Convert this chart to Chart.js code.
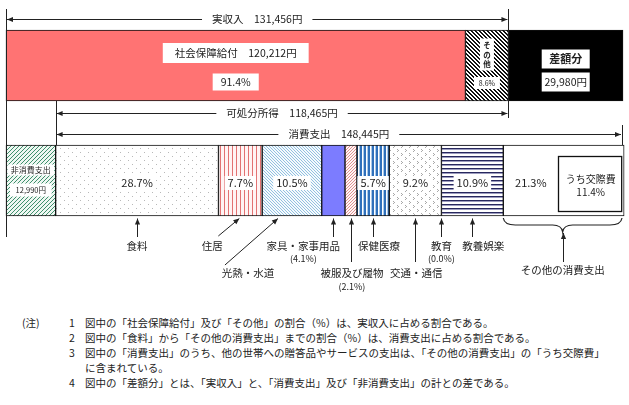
<!DOCTYPE html>
<html lang="ja">
<head>
<meta charset="utf-8">
<script src="https://cdn.jsdelivr.net/npm/chart.js@4.4.0/dist/chart.umd.min.js"></script>
<style>
body { margin: 0; background: #fff; font-family: 'Noto Sans CJK JP', sans-serif; color: #222; }
#wrap { position: relative; width: 629px; height: 300px; }
#notes { position: absolute; top: 315px; left: 0; width: 629px; font-size: 10.5px; line-height: 15px; }
#notes div { position: relative; padding-left: 85px; white-space: nowrap; }
#notes .chu { position: absolute; left: 22px; }
#notes .num { position: absolute; left: 69px; }
</style>
</head>
<body>
<div id="wrap"><canvas id="budgetChart"></canvas></div>
<div id="notes">
  <div><span class="chu">(注)</span><span class="num">1</span>図中の「社会保障給付」及び「その他」の割合（%）は、実収入に占める割合である。</div>
  <div><span class="num">2</span>図中の「食料」から「その他の消費支出」までの割合（%）は、消費支出に占める割合である。</div>
  <div><span class="num">3</span>図中の「消費支出」のうち、他の世帯への贈答品やサービスの支出は、「その他の消費支出」の「うち交際費」</div>
  <div>に含まれている。</div>
  <div><span class="num">4</span>図中の「差額分」とは、「実収入」と、「消費支出」及び「非消費支出」の計との差である。</div>
</div>
<script>
// 金額（円）
const jitsuShunyu = 131456;
const kashobunShotoku = 118465;
const shohiShishutsu = 148445;
const hiShohiShishutsu = 12990;
const sagakubun = 29980;

// 実収入の内訳
const incomeLabels = ['社会保障給付', 'その他'];
const incomeYen = [120212, 11244];
const incomePct = [91.4, 8.6];

// 消費支出の内訳（消費支出に占める割合 %）
const consumptionLabels = ['食料', '住居', '光熱・水道', '家具・家事用品', '被服及び履物',
    '保健医療', '交通・通信', '教育', '教養娯楽', 'その他の消費支出'];
const consumptionPct = [28.7, 7.7, 10.5, 4.1, 2.1, 5.7, 9.2, 0.0, 10.9, 21.3];
const kosaihiPct = 11.4;

const rowLabels = ['実収入', '支出'];
const FONT = "'Noto Sans CJK JP', sans-serif";

function yen(n) {
    return n.toLocaleString('en-US') + '円';
}

// pixel patterns
function pattern(w, h, bg, paint) {
    const c = document.createElement('canvas');
    c.width = w;
    c.height = h;
    const g = c.getContext('2d');
    g.fillStyle = bg;
    g.fillRect(0, 0, w, h);
    for (let y = 0; y < h; y++) {
        for (let x = 0; x < w; x++) {
            const col = paint(x, y);
            if (col) {
                g.fillStyle = col;
                g.fillRect(x, y, 1, 1);
            }
        }
    }
    return g.createPattern(c, 'repeat');
}

const fills = {
    shakai: '#ff7373',
    sonota: pattern(4, 4, '#fff', (x, y) => ((x - y + 8) % 4 < 2 ? '#111' : null)),
    sagaku: '#000',
    hiShohi: pattern(4, 4, '#eef7f2', (x, y) => ((x + y) % 4 === 0 ? '#3f8f6c' : null)),
    food: pattern(8, 8, '#fff', (x, y) => ((x === 0 && y === 0) || (x === 4 && y === 4) ? '#b8b8b8' : null)),
    housing: pattern(4, 4, '#fff4f4', (x) => (x === 0 ? '#e27272' : null)),
    utility: pattern(3, 3, '#f5fafd', (x, y) => ((x - y + 6) % 3 === 0 ? '#92c0e0' : null)),
    furniture: '#7c7cff',
    clothing: pattern(3, 3, '#fff6f6', (x, y) => ((x + y) % 3 === 0 ? '#e09090' : null)),
    medical: pattern(4, 4, '#fff', (x) => (x < 2 ? '#2f70bb' : (x === 3 ? '#a9c9ea' : null))),
    transport: pattern(8, 8, '#fff', (x, y) => (
        ((x === 1 && y === 1) || (x === 2 && y === 2) || (x === 1 && y === 3) ||
         (x === 5 && y === 5) || (x === 6 && y === 6) || (x === 5 && y === 7)) ? '#a8a8a8' : null)),
    education: '#fff',
    culture: pattern(4, 4, '#fff', (x, y) => (y === 0 ? '#28285e' : (y === 1 ? '#9c9cbf' : null))),
    other: '#fff'
};
const consumptionFills = [fills.food, fills.housing, fills.utility, fills.furniture, fills.clothing,
    fills.medical, fills.transport, fills.education, fills.culture, fills.other];

const datasets = [];
incomeLabels.forEach((name, i) => {
    datasets.push({ label: name, data: [incomeYen[i], 0], backgroundColor: i === 0 ? fills.shakai : fills.sonota });
});
datasets.push({ label: '差額分', data: [sagakubun, 0], backgroundColor: fills.sagaku });
datasets.push({ label: '非消費支出', data: [0, hiShohiShishutsu], backgroundColor: fills.hiShohi });
consumptionLabels.forEach((name, i) => {
    datasets.push({ label: name, data: [0, shohiShishutsu * consumptionPct[i] / 100], backgroundColor: consumptionFills[i] });
});
datasets.forEach(ds => {
    ds.borderColor = '#111';
    ds.borderWidth = 1;
    ds.borderSkipped = false;
    ds.barThickness = 71;
    ds.clip = false;
});
const FIRST_CONS = 4;

function seg(chart, ds, row) {
    const el = chart.getDatasetMeta(ds).data[row];
    const l = Math.min(el.base, el.x), r = Math.max(el.base, el.x);
    return { l, r, cx: (l + r) / 2, cy: el.y, top: el.y - el.height / 2, bottom: el.y + el.height / 2 };
}

function px(v) {
    return Math.round(v) + 0.5;
}

function line(ctx, x1, y1, x2, y2) {
    ctx.beginPath();
    ctx.moveTo(x1, y1);
    ctx.lineTo(x2, y2);
    ctx.stroke();
}

function head(ctx, x, y, angle) {
    ctx.save();
    ctx.translate(x, y);
    ctx.rotate(angle);
    ctx.beginPath();
    ctx.moveTo(0, 0);
    ctx.lineTo(-6, -2.6);
    ctx.lineTo(-6, 2.6);
    ctx.closePath();
    ctx.fill();
    ctx.restore();
}

function arrow(ctx, x1, y1, x2, y2) {
    line(ctx, x1, y1, x2, y2);
    head(ctx, x2, y2, Math.atan2(y2 - y1, x2 - x1));
}

function text(ctx, s, x, y, size, bold) {
    ctx.font = (bold ? 'bold ' : '') + size + 'px ' + FONT;
    ctx.textAlign = 'center';
    ctx.textBaseline = 'middle';
    ctx.fillStyle = '#222';
    ctx.fillText(s, x, y);
}

function boxText(ctx, s, x, y, size, padX, h, bold, w) {
    ctx.font = (bold ? 'bold ' : '') + size + 'px ' + FONT;
    const bw = w || ctx.measureText(s).width + padX * 2;
    ctx.fillStyle = '#fff';
    ctx.fillRect(x - bw / 2, y - h / 2, bw, h);
    text(ctx, s, x, y, size, bold);
}

function spanArrow(ctx, x1, x2, y, label, size) {
    const yy = px(y);
    line(ctx, x1, yy, x2, yy);
    head(ctx, x1, yy, Math.PI);
    head(ctx, x2, yy, 0);
    boxText(ctx, label, (x1 + x2) / 2, y, size, 10, 12);
}

const annotations = {
    id: 'annotations',
    afterDatasetsDraw(chart) {
        const ctx = chart.ctx;
        const sx = chart.scales.x;
        ctx.save();
        ctx.strokeStyle = '#222';
        ctx.fillStyle = '#222';
        ctx.lineWidth = 1;

        const xL = sx.getPixelForValue(0);
        const xJ = sx.getPixelForValue(jitsuShunyu);
        const xH = sx.getPixelForValue(hiShohiShishutsu);
        const xE = sx.getPixelForValue(hiShohiShishutsu + shohiShishutsu);
        const top = seg(chart, 0, 0);
        const bot = seg(chart, 3, 1);

        // guide lines
        line(ctx, px(xL), top.top - 21, px(xL), bot.bottom + 21);
        line(ctx, px(xJ), top.top - 21, px(xJ), top.bottom + 17);
        line(ctx, px(xH), top.bottom, px(xH), bot.top);
        line(ctx, px(xE) - 1, bot.top - 20, px(xE) - 1, bot.top);

        spanArrow(ctx, xL + 1, xJ - 1, top.top - 11, '実収入　' + yen(jitsuShunyu), 10.5);
        spanArrow(ctx, xH + 1, xJ - 1, top.bottom + 12, '可処分所得　' + yen(kashobunShotoku), 10.5);
        spanArrow(ctx, xH + 1, xE - 2, bot.top - 11, '消費支出　' + yen(shohiShishutsu), 10.5);

        // 実収入の内訳
        const s0 = seg(chart, 0, 0);
        boxText(ctx, incomeLabels[0] + '　' + yen(incomeYen[0]), s0.cx, s0.cy - 12.5, 10.5, 12, 20);
        boxText(ctx, incomePct[0].toFixed(1) + '%', s0.cx, s0.cy + 16.5, 10.5, 8, 17);
        const s1 = seg(chart, 1, 0);
        ctx.fillStyle = '#fff';
        ctx.fillRect(s1.cx - 7, s1.cy - 27, 14, 32);
        ['そ', 'の', '他'].forEach((c, k) => text(ctx, c, s1.cx, s1.cy - 20 + k * 9.5, 7.5, true));
        boxText(ctx, incomePct[1].toFixed(1) + '%', s1.cx, s1.cy + 17.5, 7, 2, 12, false, 26);
        const s2 = seg(chart, 2, 0);
        boxText(ctx, '差額分', s2.cx, s2.cy - 6.5, 11, 0, 19, true, 48);
        boxText(ctx, yen(sagakubun), s2.cx, s2.cy + 16.5, 10.5, 0, 19, false, 48);

        // 非消費支出
        const s3 = seg(chart, 3, 1);
        boxText(ctx, '非消費支出', s3.cx, s3.cy - 10.5, 8, 0, 11, false, s3.r - s3.l - 3);
        boxText(ctx, yen(hiShohiShishutsu), s3.cx, s3.cy + 9.5, 7.5, 0, 13, false, s3.r - s3.l - 8);

        // 消費支出の内訳
        const cs = consumptionLabels.map((_, i) => seg(chart, FIRST_CONS + i, 1));
        const other = cs[9];
        const kosaiW = sx.getPixelForValue(shohiShishutsu * kosaihiPct / 100) - sx.getPixelForValue(0);
        const boxL = xE - kosaiW;
        ctx.fillStyle = '#fff';
        ctx.fillRect(boxL, other.top + 11, xE - boxL - 1, other.bottom - other.top - 15);
        ctx.strokeStyle = '#111';
        ctx.lineWidth = 1.3;
        ctx.strokeRect(px(boxL), other.top + 11.5, xE - boxL - 1.5, other.bottom - other.top - 16);
        ctx.lineWidth = 1;
        ctx.strokeStyle = '#222';
        text(ctx, 'うち交際費', (boxL + xE) / 2, other.cy - 1.5, 10);
        text(ctx, kosaihiPct.toFixed(1) + '%', (boxL + xE) / 2, other.cy + 11.5, 10);

        [0, 1, 2, 5, 6, 8].forEach(i => {
            boxText(ctx, consumptionPct[i].toFixed(1) + '%', cs[i].cx, cs[i].cy + 2.5, 11, 3, 14);
        });
        text(ctx, consumptionPct[9].toFixed(1) + '%', (other.l + boxL) / 2, other.cy + 2.5, 11);

        // 下の見出しと矢印
        const yTip = bot.bottom + 2.5;
        const yTail = bot.bottom + 21;
        const yLong = bot.bottom + 46;
        const r1 = bot.bottom + 30;
        const r1p = bot.bottom + 43;
        const r2 = bot.bottom + 57;
        const r2p = bot.bottom + 71;
        ctx.fillStyle = '#222';

        arrow(ctx, px(cs[0].cx), yTail, px(cs[0].cx), yTip);
        text(ctx, consumptionLabels[0], cs[0].cx, r1, 10.5);

        arrow(ctx, cs[1].cx - 22, yTail - 1, cs[1].cx - 1, yTip);
        text(ctx, consumptionLabels[1], cs[1].cx - 28, r1, 10.5);

        arrow(ctx, cs[2].cx - 67, yLong + 3, cs[2].cx - 14, yTip);
        text(ctx, consumptionLabels[2], cs[2].cx - 44, r2, 10.5);

        arrow(ctx, px(cs[3].cx), yTail, px(cs[3].cx), yTip);
        text(ctx, consumptionLabels[3], cs[3].cx - 30, r1, 10.5);
        text(ctx, '(' + consumptionPct[3].toFixed(1) + '%)', cs[3].cx - 30, r1p, 9);

        arrow(ctx, px(cs[4].cx), yLong, px(cs[4].cx), yTip);
        text(ctx, consumptionLabels[4], cs[4].cx + 1, r2, 10.5);
        text(ctx, '(' + consumptionPct[4].toFixed(1) + '%)', cs[4].cx + 1, r2p, 9);

        arrow(ctx, px(cs[5].cx), yTail, px(cs[5].cx), yTip);
        text(ctx, consumptionLabels[5], cs[5].cx + 6, r1, 10.5);

        arrow(ctx, px(cs[6].cx), yLong, px(cs[6].cx), yTip);
        text(ctx, consumptionLabels[6], cs[6].cx + 1, r2, 10.5);

        arrow(ctx, px(cs[7].cx), yTail, px(cs[7].cx), yTip);
        text(ctx, consumptionLabels[7], cs[7].cx, r1, 10.5);
        text(ctx, '(' + consumptionPct[7].toFixed(1) + '%)', cs[7].cx, r1p, 9);

        arrow(ctx, px(cs[8].cx), yTail, px(cs[8].cx), yTip);
        text(ctx, consumptionLabels[8], cs[8].cx + 11, r1, 10.5);

        // brace
        const bl = other.l, br = xE - 1, mid = (bl + br) / 2, y0 = bot.bottom + 2;
        ctx.lineWidth = 1.2;
        ctx.beginPath();
        ctx.moveTo(bl, y0);
        ctx.quadraticCurveTo(bl + 1, y0 + 7, bl + 12, y0 + 7);
        ctx.lineTo(mid - 10, y0 + 7);
        ctx.quadraticCurveTo(mid - 1, y0 + 7, mid, y0 + 14);
        ctx.quadraticCurveTo(mid + 1, y0 + 7, mid + 10, y0 + 7);
        ctx.lineTo(br - 12, y0 + 7);
        ctx.quadraticCurveTo(br - 1, y0 + 7, br, y0);
        ctx.stroke();
        ctx.lineWidth = 1;
        arrow(ctx, px(mid), yLong, px(mid), y0 + 15);
        text(ctx, consumptionLabels[9], mid, r2 - 3, 10.5);

        ctx.restore();
    }
};

new Chart(document.getElementById('budgetChart'), {
    type: 'bar',
    data: { labels: rowLabels, datasets },
    options: {
        indexAxis: 'y',
        responsive: true,
        maintainAspectRatio: false,
        animation: false,
        layout: { padding: { top: 8, bottom: 62, left: 6, right: 6 } },
        scales: {
            x: { type: 'linear', stacked: true, min: 0, max: jitsuShunyu + sagakubun, display: false },
            y: { stacked: true, display: false }
        },
        plugins: {
            legend: { display: false },
            tooltip: { enabled: false }
        }
    },
    plugins: [annotations]
});
</script>
</body>
</html>
